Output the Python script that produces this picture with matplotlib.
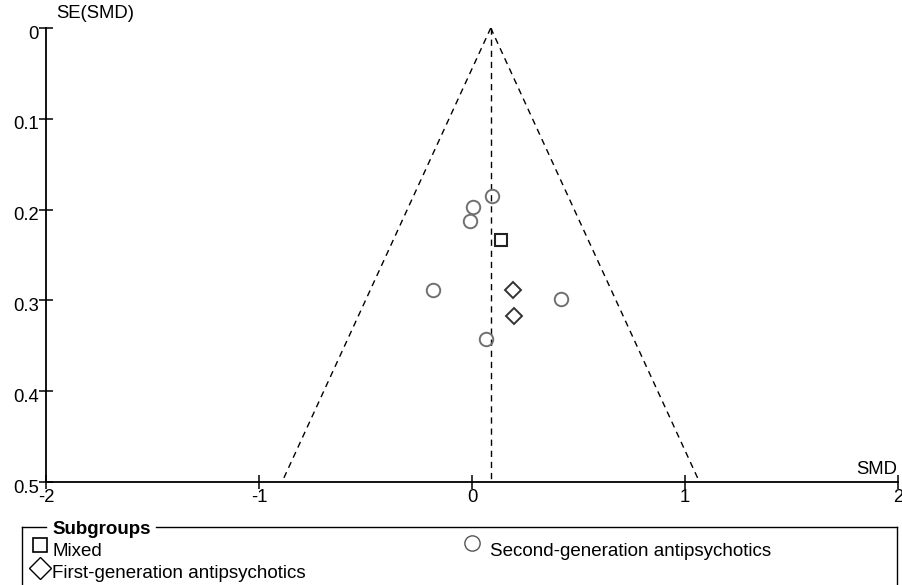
import matplotlib
matplotlib.use("Agg")
import matplotlib.pyplot as plt
import matplotlib.transforms as mtransforms
from matplotlib.lines import Line2D
import numpy as np

plt.rcParams['font.family'] = ['Liberation Sans', 'DejaVu Sans']

# Data: (SMD, SE)
pooled_smd = 0.088
se_max = 0.5

mixed_smd = [0.138]
mixed_se = [0.234]

first_gen_smd = [0.191, 0.199]
first_gen_se = [0.289, 0.317]

second_gen_smd = [0.092, 0.006, -0.008, -0.182, 0.419, 0.064]
second_gen_se = [0.185, 0.197, 0.213, 0.289, 0.298, 0.343]

x_ticks = [-2, -1, 0, 1, 2]
y_ticks = [0, 0.1, 0.2, 0.3, 0.4, 0.5]
x_ticklabels = ["-2", "-1", "0", "1", "2"]
y_ticklabels = ["0", "0.1", "0.2", "0.3", "0.4", "0.5"]

FS = 13.3
W, H = 902, 585
fig = plt.figure(figsize=(W / 100, H / 100), dpi=100)
ax = fig.add_axes([46 / W, 1 - 482 / H, (898 - 46) / W, (482 - 28) / H])

# funnel
se_line = np.array([0, se_max])
dash = (0, (4.5, 3.5))
ax.plot(pooled_smd - 1.96 * se_line, se_line, color='black', lw=1.0, ls=dash)
ax.plot(pooled_smd + 1.96 * se_line, se_line, color='black', lw=1.0, ls=dash)
ax.plot([pooled_smd, pooled_smd], [0, se_max], color='black', lw=1.0, ls=dash)

ax.plot(second_gen_smd, second_gen_se, 'o', ms=9.7, mfc='none', mec='#707070', mew=1.4, ls='none')
ax.plot(mixed_smd, mixed_se, 's', ms=9.0, mfc='none', mec='#222222', mew=1.5, ls='none')
ax.plot(first_gen_smd, first_gen_se, 'D', ms=8.6, mfc='none', mec='#333333', mew=1.4, ls='none')

ax.set_xlim(-2, 2)
ax.set_ylim(0.5, 0)
ax.set_xticks(x_ticks)
ax.set_xticklabels(x_ticklabels)
ax.set_yticks(y_ticks)
ax.set_yticklabels(y_ticklabels)
for s in ['top', 'right']:
    ax.spines[s].set_visible(False)
for s in ['left', 'bottom']:
    ax.spines[s].set_linewidth(1.3)
    ax.spines[s].set_clip_on(False)
ax.tick_params(direction='inout', length=10, width=1.1, labelsize=FS, pad=0, colors='black')
ax.tick_params(axis='x', pad=0)
off = mtransforms.ScaledTranslation(0, -3 / 72, fig.dpi_scale_trans)
for lab in ax.get_yticklabels():
    lab.set_transform(lab.get_transform() + off)
for lab in ax.get_xticklabels() + ax.get_yticklabels():
    lab.set_clip_on(False)

fig.text(56 / W, 1 - 14 / H, "SE(SMD)", fontsize=FS, ha='left', va='center')
fig.text(897 / W, 1 - 469 / H, "SMD", fontsize=FS, ha='right', va='center')

# legend box
LF = 13.5
ytop = 1 - 527 / H
fig.add_artist(Line2D([22 / W, 22 / W], [ytop, -0.05], color='black', lw=1.0))
fig.add_artist(Line2D([897 / W, 897 / W], [ytop, -0.05], color='black', lw=1.0))
fig.add_artist(Line2D([22 / W, 46 / W], [ytop, ytop], color='black', lw=1.0))
fig.add_artist(Line2D([156 / W, 897 / W], [ytop, ytop], color='black', lw=1.0))
fig.text(52 / W, 1 - 529 / H, "Subgroups", fontsize=LF, fontweight='bold', ha='left', va='center')

fig.add_artist(Line2D([40 / W], [1 - 545 / H], marker='s', ms=10, mfc='none', mec='black', mew=1.2, ls='none'))
fig.text(52 / W, 1 - 551 / H, "Mixed", fontsize=LF, ha='left', va='center')
fig.add_artist(Line2D([40 / W], [1 - 568 / H], marker='D', ms=11, mfc='none', mec='black', mew=1.0, ls='none'))
fig.text(52 / W, 1 - 574 / H, "First-generation antipsychotics", fontsize=LF, ha='left', va='center')
fig.add_artist(Line2D([472 / W], [1 - 543 / H], marker='o', ms=11, mfc='none', mec='#555555', mew=1.0, ls='none'))
fig.text(490 / W, 1 - 551 / H, "Second-generation antipsychotics", fontsize=LF, ha='left', va='center')

fig.savefig("out.png", dpi=100)
